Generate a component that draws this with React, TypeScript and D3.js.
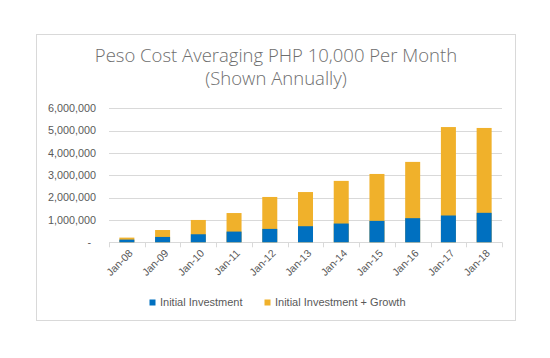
import React from "react";
import * as d3 from "d3";

const categories = ["Jan-08", "Jan-09", "Jan-10", "Jan-11", "Jan-12", "Jan-13", "Jan-14", "Jan-15", "Jan-16", "Jan-17", "Jan-18"];
const initialInvestment = [120000, 240000, 360000, 480000, 600000, 720000, 840000, 960000, 1080000, 1200000, 1320000];
const investmentPlusGrowth = [210000, 550000, 1000000, 1310000, 2030000, 2250000, 2750000, 3060000, 3600000, 5160000, 5120000];
const yTicks = [0, 1000000, 2000000, 3000000, 4000000, 5000000, 6000000];
const titleLines = ["Peso Cost Averaging PHP 10,000 Per Month", "(Shown Annually)"];
const legendLabels = ["Initial Investment", "Initial Investment + Growth"];

const BLUE = "#0070C0";
const GOLD = "#F0B12B";
const GRID = "#d9d9d9";
const TEXT = "#595959";

export default function App() {
  const W = 550, H = 358;
  const plotL = 109, plotR = 502, plotT = 108.3, plotB = 242.3;
  const x = d3.scaleBand<string>().domain(categories).range([plotL, plotR]).padding(0);
  const y = d3.scaleLinear().domain([0, 6000000]).range([plotB, plotT]);
  const bw = x.bandwidth() * 0.42;
  const fmt = d3.format(",");
  const boundaries = categories.map((c) => x(c) as number).concat([plotR]);

  return (
    <svg width={W} height={H} style={{ position: "absolute", left: 0, top: 0, background: "#fff" }}
      fontFamily="'Liberation Sans', Arial, sans-serif">
      <rect x={36.5} y={34.5} width={479} height={286} fill="#fff" stroke={GRID} strokeWidth={1} />
      {titleLines.map((t, i) => (
        <text key={t} x={276} y={61.5 + i * 23} textAnchor="middle" fontSize={18.5}
          fontFamily="'Open Sans', sans-serif" fontWeight={300} fill="#6e6e6e">{t}</text>
      ))}
      {yTicks.map((v) => (
        <g key={v}>
          <line x1={plotL} x2={plotR} y1={Math.round(y(v)) + 0.5} y2={Math.round(y(v)) + 0.5} stroke={GRID} strokeWidth={1} />
          <text x={v === 0 ? 91 : 96} y={y(v)} dy="0.35em" textAnchor="end" fontSize={10.8} fill={TEXT}>
            {v === 0 ? "-" : fmt(v)}
          </text>
        </g>
      ))}
      {boundaries.map((bx, i) => (
        <line key={i} x1={Math.round(bx) + 0.5} x2={Math.round(bx) + 0.5} y1={plotB} y2={plotB + 5} stroke={GRID} strokeWidth={1} />
      ))}
      {categories.map((c, i) => {
        const cx = (x(c) as number) + x.bandwidth() / 2;
        return (
          <g key={c}>
            <rect x={cx - bw / 2} y={y(investmentPlusGrowth[i])} width={bw} height={plotB - y(investmentPlusGrowth[i])} fill={GOLD} />
            <rect x={cx - bw / 2} y={y(initialInvestment[i])} width={bw} height={plotB - y(initialInvestment[i])} fill={BLUE} />
            <text transform={`translate(${cx + 4},${plotB + 9}) rotate(-45)`} textAnchor="end" fontSize={10.5} fill={TEXT} dy="0.35em">{c}</text>
          </g>
        );
      })}
      <rect x={149.5} y={299.5} width={6} height={6} fill={BLUE} />
      <text x={160} y={302.5} dy="0.35em" fontSize={11} fill={TEXT}>{legendLabels[0]}</text>
      <rect x={264.5} y={299.5} width={6} height={6} fill={GOLD} />
      <text x={275} y={302.5} dy="0.35em" fontSize={11} fill={TEXT}>{legendLabels[1]}</text>
    </svg>
  );
}
